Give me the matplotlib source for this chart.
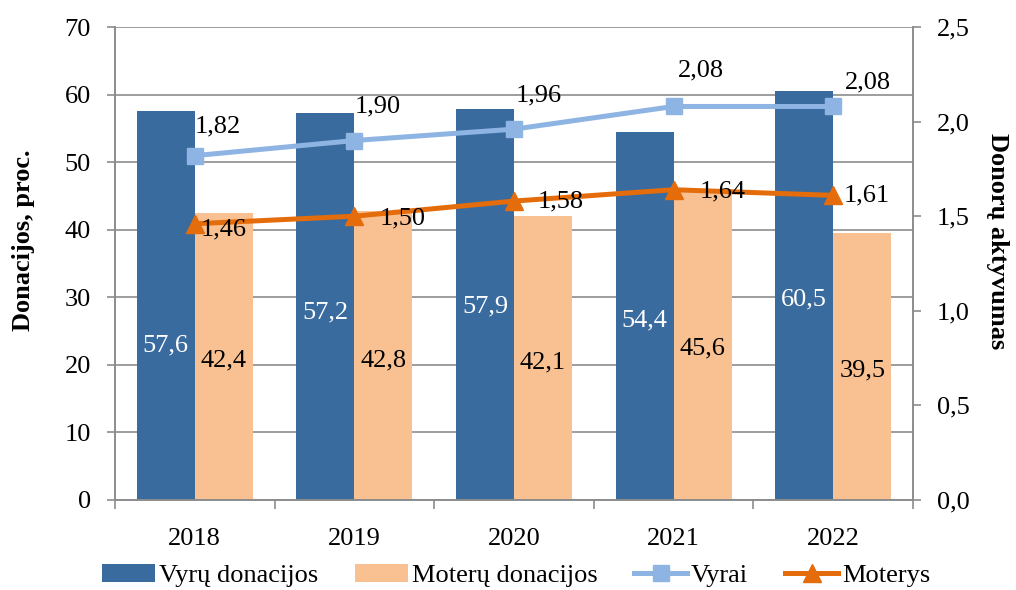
import matplotlib
matplotlib.use("Agg")
import matplotlib.pyplot as plt
import numpy as np

years = ["2018", "2019", "2020", "2021", "2022"]
vyru_donacijos = [57.6, 57.2, 57.9, 54.4, 60.5]
moteru_donacijos = [42.4, 42.8, 42.1, 45.6, 39.5]
vyrai = [1.82, 1.90, 1.96, 2.08, 2.08]
moterys = [1.46, 1.50, 1.58, 1.64, 1.61]

# label positions (in left-axis units) for bar value labels
men_label_y = [22.9, 27.8, 28.6, 26.6, 29.7]
women_label_y = [20.7, 20.7, 20.4, 22.5, 19.2]
# label offsets (category units, right-axis units) for line value labels
v_off = [(0.144, 0.153), (0.144, 0.18), (0.157, 0.18), (0.17, 0.19), (0.22, 0.127)]
m_off = [(0.18, -0.032), (0.30, -0.01), (0.29, 0.0), (0.31, -0.01), (0.21, 0.0)]

plt.rcParams['font.family'] = ['Liberation Serif', 'DejaVu Serif']
FS = 19

fig = plt.figure(figsize=(10.16, 5.9), dpi=100)
ax = fig.add_axes([115/1016, 1-500/590, (913-115)/1016, (500-27)/590])
ax2 = ax.twinx()

x = np.arange(len(years))
w = 0.364
c_men = "#3A6B9F"
c_women = "#F9C191"
c_vyrai = "#8EB4E3"
c_moterys = "#E46C0A"
grid_c = "#8C8C8C"

b1 = ax.bar(x - w/2, vyru_donacijos, w, color=c_men, label="Vyrų donacijos", zorder=2)
b2 = ax.bar(x + w/2, moteru_donacijos, w, color=c_women, label="Moterų donacijos", zorder=2)

for xi, v, ly in zip(x, vyru_donacijos, men_label_y):
    ax.text(xi - w/2, ly, f"{v:.1f}".replace(".", ","), color="white", ha="center", va="center", fontsize=FS, zorder=3)
for xi, v, ly in zip(x, moteru_donacijos, women_label_y):
    ax.text(xi + w/2, ly, f"{v:.1f}".replace(".", ","), color="black", ha="center", va="center", fontsize=FS, zorder=3)

ax.set_xlim(-0.5, len(years) - 0.5)
ax.set_ylim(0, 70)
ax.set_yticks(range(0, 71, 10))
ax.yaxis.grid(True, color=grid_c, linewidth=1.2, zorder=0)
ax.set_axisbelow(True)
ax.set_xticks(x)
ax.set_xticklabels(years, fontsize=FS)
ax.set_xticks(np.arange(-0.5, len(years), 1), minor=True)
ax.tick_params(axis="x", which="major", length=0, pad=20)
ax.tick_params(axis="x", which="minor", length=6.5, color=grid_c, width=1.2)
ax.tick_params(axis="y", labelsize=FS, length=5.8, color=grid_c, width=1.2, pad=11.5)
ax.set_ylabel("Donacijos, proc.", fontsize=FS, fontweight="bold")
ax.yaxis.set_label_coords((35-115)/798, (500-240)/473)

ax2.plot(x, vyrai, color=c_vyrai, lw=3.6, marker="s", ms=12, label="Vyrai", zorder=4)
ax2.plot(x, moterys, color=c_moterys, lw=3.6, marker="^", ms=13, label="Moterys", zorder=4)
ax2.set_ylim(0, 2.5)
rt = np.arange(0, 2.51, 0.5)
ax2.set_yticks(rt)
ax2.set_yticklabels([f"{v:.1f}".replace(".", ",") for v in rt], fontsize=FS)
ax2.tick_params(axis="y", length=5.8, color=grid_c, width=1.2, pad=11.5)
ax2.set_ylabel("Donorų aktyvumas", fontsize=FS, fontweight="bold", rotation=270, va="center")
ax2.yaxis.set_label_coords((997-115)/798, (500-241)/473)

for xi, v, (dx, dy) in zip(x, vyrai, v_off):
    ax2.text(xi + dx, v + dy, f"{v:.2f}".replace(".", ","), ha="center", va="center", fontsize=FS, zorder=5)
for xi, v, (dx, dy) in zip(x, moterys, m_off):
    ax2.text(xi + dx, v + dy, f"{v:.2f}".replace(".", ","), ha="center", va="center", fontsize=FS, zorder=5)

for a in (ax, ax2):
    for s in a.spines.values():
        s.set_color(grid_c)
        s.set_linewidth(1.2)
ax.spines["top"].set_visible(False)
ax2.spines["top"].set_visible(False)

handles = [b1, b2] + ax2.get_lines()
labels = ["Vyrų donacijos", "Moterų donacijos", "Vyrai", "Moterys"]
fig.legend(handles, labels, loc="lower center", bbox_to_anchor=(0.508, -0.036), ncol=4, frameon=False,
           fontsize=FS, handlelength=2.0, handletextpad=0.15, columnspacing=1.4)

fig.savefig("out.png", dpi=100)
